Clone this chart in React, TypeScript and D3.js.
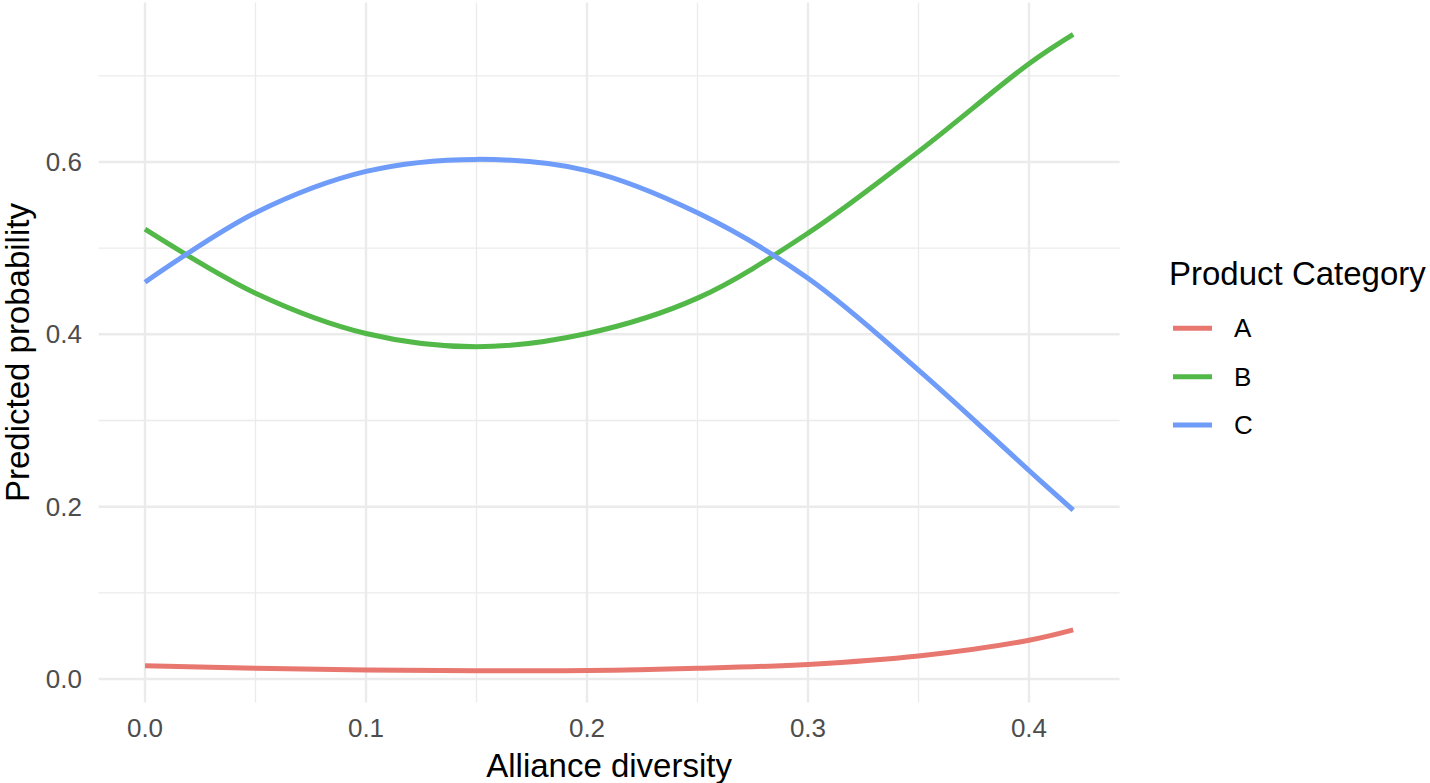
import React, { useEffect, useRef } from "react";
import * as d3 from "d3";

const diversity = [0, 0.05, 0.1, 0.15, 0.2, 0.25, 0.3, 0.35, 0.4, 0.42];

const probA = [0.0155, 0.0124, 0.0105, 0.0097, 0.0098, 0.0124, 0.017, 0.0267, 0.045, 0.057];
const probB = [0.522, 0.4477, 0.401, 0.3856, 0.401, 0.442, 0.5174, 0.612, 0.714, 0.748];
const probC = [0.4605, 0.541, 0.589, 0.603, 0.59, 0.541, 0.465, 0.3585, 0.242, 0.196];

const categories = ["A", "B", "C"];
const colors = ["#E8776F", "#52B848", "#6E9CF8"];

const xTicks = [0, 0.1, 0.2, 0.3, 0.4];
const yTicks = [0, 0.2, 0.4, 0.6];

const W = 1430;
const H = 783;
const font = "'Liberation Sans', Arial, Helvetica, sans-serif";

const App = () => {
  const ref = useRef(null);

  useEffect(() => {
    const svg = d3.select(ref.current);
    svg.selectAll("*").remove();

    const series = [probA, probB, probC];
    const all = series.flat();

    // ggplot-like 5% expansion of the data range
    const xMin = d3.min(diversity), xMax = d3.max(diversity);
    const xPad = (xMax - xMin) * 0.05;
    const yMin = d3.min(all), yMax = d3.max(all);
    const yPad = (yMax - yMin) * 0.05;

    const x = d3.scaleLinear().domain([xMin - xPad, xMax + xPad]).range([98.6, 1119.6]);
    const y = d3.scaleLinear().domain([yMin - yPad, yMax + yPad]).range([702.5, 2.6]);

    const [x0, x1] = x.range();
    const [y0, y1] = y.range();

    const grid = svg.append("g");
    // minor grid lines
    const xMinor = xTicks.slice(0, -1).map((t) => t + 0.05).filter((t) => t < x.domain()[1]);
    const yMinor = yTicks.map((t) => t + 0.1);
    grid.selectAll(".vminor").data(xMinor).enter().append("line")
      .attr("x1", (d) => x(d)).attr("x2", (d) => x(d))
      .attr("y1", y0).attr("y2", y1)
      .attr("stroke", "#ebebeb").attr("stroke-width", 1.3);
    grid.selectAll(".hminor").data(yMinor).enter().append("line")
      .attr("x1", x0).attr("x2", x1)
      .attr("y1", (d) => y(d)).attr("y2", (d) => y(d))
      .attr("stroke", "#ebebeb").attr("stroke-width", 1.3);
    // major grid lines
    grid.selectAll(".vmajor").data(xTicks).enter().append("line")
      .attr("x1", (d) => x(d)).attr("x2", (d) => x(d))
      .attr("y1", y0).attr("y2", y1)
      .attr("stroke", "#ebebeb").attr("stroke-width", 2.4);
    grid.selectAll(".hmajor").data(yTicks).enter().append("line")
      .attr("x1", x0).attr("x2", x1)
      .attr("y1", (d) => y(d)).attr("y2", (d) => y(d))
      .attr("stroke", "#ebebeb").attr("stroke-width", 2.4);

    // curves
    const line = d3.line()
      .x((d) => x(d[0]))
      .y((d) => y(d[1]))
      .curve(d3.curveCatmullRom.alpha(0.5));

    series.forEach((vals, i) => {
      svg.append("path")
        .datum(diversity.map((dv, j) => [dv, vals[j]]))
        .attr("fill", "none")
        .attr("stroke", colors[i])
        .attr("stroke-width", 5)
        .attr("d", line);
    });

    // tick labels
    svg.selectAll(".xt").data(xTicks).enter().append("text")
      .attr("x", (d) => x(d)).attr("y", 736.5)
      .attr("text-anchor", "middle")
      .attr("font-family", font).attr("font-size", 26).attr("fill", "#4d4d4d")
      .text((d) => d3.format(".1f")(d));
    svg.selectAll(".yt").data(yTicks).enter().append("text")
      .attr("x", 82).attr("y", (d) => y(d))
      .attr("dy", "0.35em")
      .attr("text-anchor", "end")
      .attr("font-family", font).attr("font-size", 26).attr("fill", "#4d4d4d")
      .text((d) => d3.format(".1f")(d));

    // axis titles
    svg.append("text")
      .attr("x", (x0 + x1) / 2).attr("y", 776.5)
      .attr("text-anchor", "middle")
      .attr("font-family", font).attr("font-size", 33).attr("fill", "#000")
      .text("Alliance diversity");
    svg.append("text")
      .attr("transform", `translate(28.5, ${(y0 + y1) / 2}) rotate(-90)`)
      .attr("text-anchor", "middle")
      .attr("font-family", font).attr("font-size", 33).attr("fill", "#000")
      .text("Predicted probability");

    // legend
    const legend = svg.append("g");
    legend.append("text")
      .attr("x", 1169).attr("y", 285)
      .attr("font-family", font).attr("font-size", 33).attr("fill", "#000")
      .text("Product Category");
    const rows = legend.selectAll(".row").data(categories).enter().append("g")
      .attr("transform", (d, i) => `translate(0, ${328.3 + i * 48.4})`);
    rows.append("line")
      .attr("x1", 1173).attr("x2", 1212)
      .attr("stroke", (d, i) => colors[i]).attr("stroke-width", 5);
    rows.append("text")
      .attr("x", 1234).attr("dy", "0.35em")
      .attr("font-family", font).attr("font-size", 26).attr("fill", "#000")
      .text((d) => d);
  }, []);

  return (
    <svg ref={ref} width={W} height={H}
      style={{ position: "fixed", left: 0, top: 0, background: "#fff" }}>
    </svg>
  );
};

export default App;
